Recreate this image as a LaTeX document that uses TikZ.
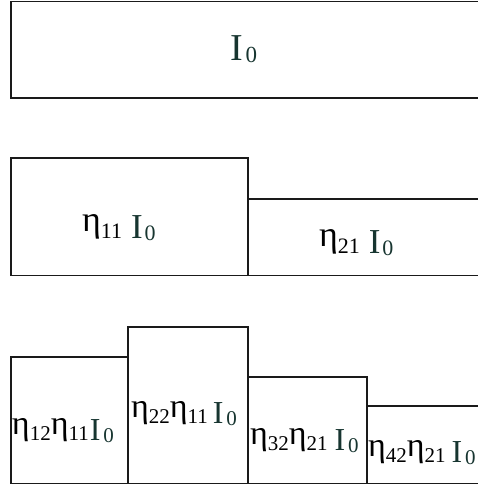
\documentclass[tikz,border=0pt]{standalone}
\usepackage{fontspec}
\setmainfont{Liberation Serif}
\definecolor{icol}{HTML}{173530}
\definecolor{lcol}{HTML}{1A1A1A}
\newcommand\gEta[4]{\raisebox{#2pt}{\fontsize{#1}{#1}\selectfont η}{\fontsize{#3}{#3}\selectfont #4}}
\newcommand\gIo[3]{\textcolor{icol}{\fontsize{#1}{#1}\selectfont I\hspace{#3pt}\raisebox{-2pt}{\fontsize{#2}{#2}\selectfont 0}}}
\begin{document}
\begin{tikzpicture}[x=1pt,y=-1pt,
  box/.style={draw=lcol, line width=1.2pt, fill=none, inner sep=0pt, outer sep=0pt, anchor=north west},
  lab/.style={inner sep=0pt, outer sep=0pt, anchor=base west}]
\useasboundingbox (0,0) rectangle (477,485);
% boxes
\node[box, minimum width=470pt, minimum height=96.5pt] (b0) at (11,1.5) {};
\node[box, minimum width=237pt, minimum height=117.5pt] (b11) at (11,158) {};
\node[box, minimum width=232pt, minimum height=76.5pt] (b21) at (248,199) {};
\node[box, minimum width=117pt, minimum height=126.5pt] (b12) at (11,357) {};
\node[box, minimum width=120pt, minimum height=156.5pt] (b22) at (128,327) {};
\node[box, minimum width=119pt, minimum height=106.5pt] (b32) at (248,377) {};
\node[box, minimum width=113pt, minimum height=77.5pt] (b42) at (367,406) {};
% labels
\node[lab] (l0) at (230,60) {\gIo{38}{23}{3}};
\node[lab] (l11) at (82,238) {\gEta{36}{7}{22}{11}\hspace{9pt}\gIo{35}{22}{2}};
\node[lab] (l21) at (319,253) {\gEta{36}{7}{22}{21}\hspace{9pt}\gIo{35}{22}{2}};
\node[lab] (l12) at (12,440) {\gEta{34}{6}{21}{12}\gEta{34}{6}{21}{11}\hspace{1pt}\gIo{32}{21}{3}};
\node[lab] (l22) at (131,423) {\gEta{34}{6}{21}{22}\gEta{34}{6}{21}{11}\hspace{5pt}\gIo{32}{21}{3}};
\node[lab] (l32) at (250,450) {\gEta{34}{6}{21}{32}\gEta{34}{6}{21}{21}\hspace{7pt}\gIo{32}{21}{3}};
\node[lab] (l42) at (368,462) {\gEta{34}{6}{21}{42}\gEta{34}{6}{21}{21}\hspace{6pt}\gIo{32}{21}{3}};
\end{tikzpicture}
\end{document}
